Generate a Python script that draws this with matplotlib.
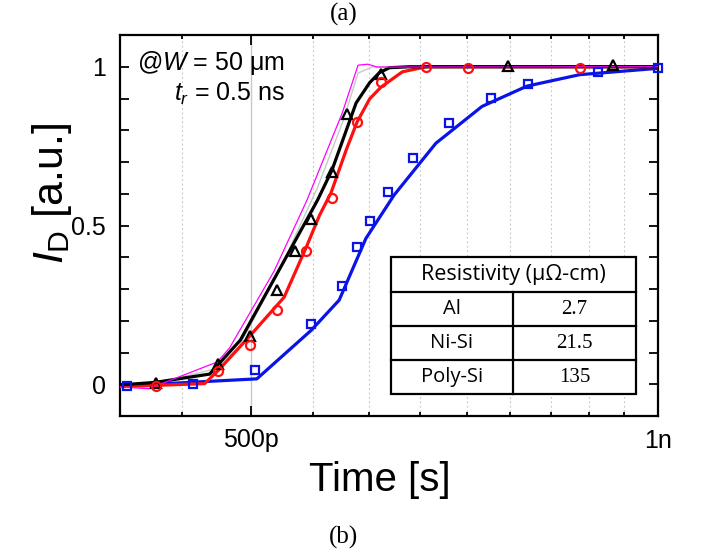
import matplotlib
matplotlib.use('Agg')
import matplotlib.pyplot as plt
from matplotlib.ticker import FixedLocator, FixedFormatter, NullFormatter
from matplotlib.patches import Rectangle
import numpy as np

plt.rcParams['font.family'] = ['Liberation Sans', 'DejaVu Sans']
plt.rcParams['mathtext.fontset'] = 'custom'
plt.rcParams['mathtext.rm'] = 'Liberation Sans'
plt.rcParams['mathtext.it'] = 'Liberation Sans:italic'
plt.rcParams['mathtext.bf'] = 'Liberation Sans:bold'

PS = 1e-12

# ---- data (time in ps, normalized current) ----
thin_t = [398, 420, 472, 482, 520, 550, 584, 600, 610, 620, 1000]
thin_y = [-0.008, -0.014, 0.07, 0.114, 0.356, 0.58, 0.854, 1.005, 1.008, 0.999, 1.0]

gray_t = [398, 425, 472, 490, 525, 560, 585, 600, 615, 1000]
gray_y = [-0.005, 0.003, 0.05, 0.12, 0.36, 0.62, 0.83, 0.98, 1.0, 1.0]

al_t = [398, 425, 466, 473, 491, 525, 560, 574, 598, 612, 622, 633, 655, 1000]
al_y = [-0.003, 0.006, 0.032, 0.063, 0.139, 0.363, 0.580, 0.675, 0.886, 0.950, 0.981, 0.997, 1.0, 1.0]

nisi_t = [398, 462, 473, 498, 529, 549, 562, 573, 588, 599, 612, 624, 647, 674, 1000]
nisi_y = [-0.008, 0.002, 0.044, 0.148, 0.274, 0.429, 0.533, 0.603, 0.738, 0.826, 0.899, 0.936, 0.984, 1.0, 1.0]

poly_t = [398, 505, 554, 581, 608, 638, 685, 741, 800, 875, 1000]
poly_y = [-0.006, 0.017, 0.170, 0.265, 0.459, 0.596, 0.759, 0.875, 0.939, 0.975, 0.995]

al_mk_t = [425, 473, 499, 523, 539, 554, 574, 589, 624, 775, 927]
al_mk_y = [0.004, 0.063, 0.152, 0.297, 0.420, 0.520, 0.670, 0.852, 0.977, 1.001, 1.004]

nisi_mk_t = [425, 473, 499, 523, 549, 574, 599, 624, 674, 724, 875]
nisi_mk_y = [-0.005, 0.041, 0.124, 0.233, 0.420, 0.588, 0.826, 0.952, 0.999, 0.996, 0.996]

poly_mk_t = [405, 453, 503, 554, 584, 599, 612, 631, 659, 701, 752, 802, 903, 1000]
poly_mk_y = [-0.006, 0.0, 0.046, 0.189, 0.311, 0.433, 0.514, 0.605, 0.712, 0.823, 0.903, 0.947, 0.983, 0.996]

x_major = [500, 1000]
x_major_labels = ['500p', '1n']
x_minor = [8000/18, 10000/18, 11000/18, 12000/18, 13000/18, 14000/18, 15000/18, 16000/18, 17000/18]
y_major = [0, 0.5, 1]
y_major_labels = ['0', '0.5', '1']
y_minor = [0.1, 0.2, 0.3, 0.4, 0.6, 0.7, 0.8, 0.9]

table_header = 'Resistivity (μΩ-cm)'
table_materials = ['Al', 'Ni-Si', 'Poly-Si']
table_values = ['2.7', '21.5', '135']

def s(v):
    return np.array(v) * PS

fig = plt.figure(figsize=(7.08, 5.54), dpi=100)
ax = fig.add_axes([120/708, 1-416/554, 538/708, 381/554])
ax.set_xscale('log')
ax.set_xlim(400*PS, 1000*PS)
ax.set_ylim(-0.1, 1.1)

# grid
for xv in x_minor:
    ax.axvline(xv*PS, color='#c4c4c4', lw=0.8, ls=(0, (1.5, 2.5)), zorder=0)
ax.axvline(500*PS, color='#c8c8c8', lw=1.0, zorder=0)

# lines
ax.plot(s(gray_t), gray_y, color='#c8c8c8', lw=1.0, zorder=2)
ax.plot(s(poly_t), poly_y, color='#0a14e6', lw=2.3, zorder=3)
ax.plot(s(nisi_t), nisi_y, color='#ff1010', lw=2.3, zorder=3)
ax.plot(s(al_t), al_y, color='black', lw=2.3, zorder=3)
ax.plot(s(thin_t), thin_y, color='#ff00ff', lw=0.9, zorder=4)

# markers
ax.plot(s(al_mk_t), al_mk_y, ls='none', marker='^', ms=7.5, mfc='none', mec='black', mew=1.6, zorder=5, clip_on=False)
ax.plot(s(nisi_mk_t), nisi_mk_y, ls='none', marker='o', ms=6.5, mfc='none', mec='#ff1010', mew=1.6, zorder=5, clip_on=False)
ax.plot(s(poly_mk_t), poly_mk_y, ls='none', marker='s', ms=6.0, mfc='none', mec='#0a14e6', mew=1.6, zorder=5, clip_on=False)

# ticks
ax.xaxis.set_major_locator(FixedLocator(s(x_major)))
ax.xaxis.set_major_formatter(FixedFormatter(x_major_labels))
ax.xaxis.set_minor_locator(FixedLocator(s(x_minor)))
ax.xaxis.set_minor_formatter(NullFormatter())
ax.yaxis.set_major_locator(FixedLocator(y_major))
ax.yaxis.set_major_formatter(FixedFormatter(y_major_labels))
ax.yaxis.set_minor_locator(FixedLocator(y_minor))
ax.tick_params(which='both', direction='in', top=True, right=True, width=1.3, labelsize=18)
ax.tick_params(axis='x', which='major', length=7, pad=9)
ax.tick_params(axis='x', which='minor', length=3)
ax.tick_params(axis='y', which='both', length=6.5, pad=10)
for sp in ax.spines.values():
    sp.set_linewidth(1.6)

ax.set_xlabel('Time [s]', fontsize=29)
ax.xaxis.set_label_coords((380-120)/538, (416-480)/381)
ax.xaxis.label.set_va('center')
ax.set_ylabel(r'$\mathit{I}_\mathrm{D}$ [a.u.]', fontsize=31)
ax.yaxis.set_label_coords((52-120)/538, (416-193)/381)
ax.yaxis.label.set_va('center')

ax.text((285-120)/538, (416-63)/381, r'@$\mathit{W}$ = 50 μm', transform=ax.transAxes,
        fontsize=18, ha='right', va='center')
ax.text((285-120)/538, (416-94)/381, r'$\mathit{t}_\mathit{r}$ = 0.5 ns', transform=ax.transAxes,
        fontsize=18, ha='right', va='center')

# table
tx0, tx1, txm = (391-120)/538, (636-120)/538, (513-120)/538
rows = [(416-292)/381, (416-326)/381, (416-360)/381]
ty0, ty1 = (416-394)/381, (416-257)/381
ax.add_patch(Rectangle((tx0, ty0), tx1-tx0, ty1-ty0, transform=ax.transAxes,
                       facecolor='white', edgecolor='black', lw=1.6, zorder=6))
for r in rows:
    ax.plot([tx0, tx1], [r, r], transform=ax.transAxes, color='black', lw=1.6, zorder=7)
ax.plot([txm, txm], [ty0, rows[0]], transform=ax.transAxes, color='black', lw=1.6, zorder=7)
tfont = ['Open Sans', 'DejaVu Sans']
ax.text((tx0+tx1)/2, (ty1+rows[0])/2, table_header, transform=ax.transAxes,
        ha='center', va='center', fontsize=15.5, family=tfont, zorder=8)
row_bounds = [rows[0], rows[1], rows[2], ty0]
for i in range(3):
    yc = (row_bounds[i] + row_bounds[i+1]) / 2
    ax.text((tx0+txm)/2, yc, table_materials[i], transform=ax.transAxes,
            ha='center', va='center', fontsize=14.5, family=tfont, zorder=8)
    ax.text((txm+tx1)/2, yc, table_values[i], transform=ax.transAxes,
            ha='center', va='center', fontsize=15, family=['Liberation Serif'], zorder=8)

fig.text(344/708, 1-14/554, '(a)', ha='center', va='center', fontsize=18, family=['Liberation Serif'])
fig.text(344/708, 1-537/554, '(b)', ha='center', va='center', fontsize=18, family=['Liberation Serif'])

fig.savefig('out.png', dpi=100)
